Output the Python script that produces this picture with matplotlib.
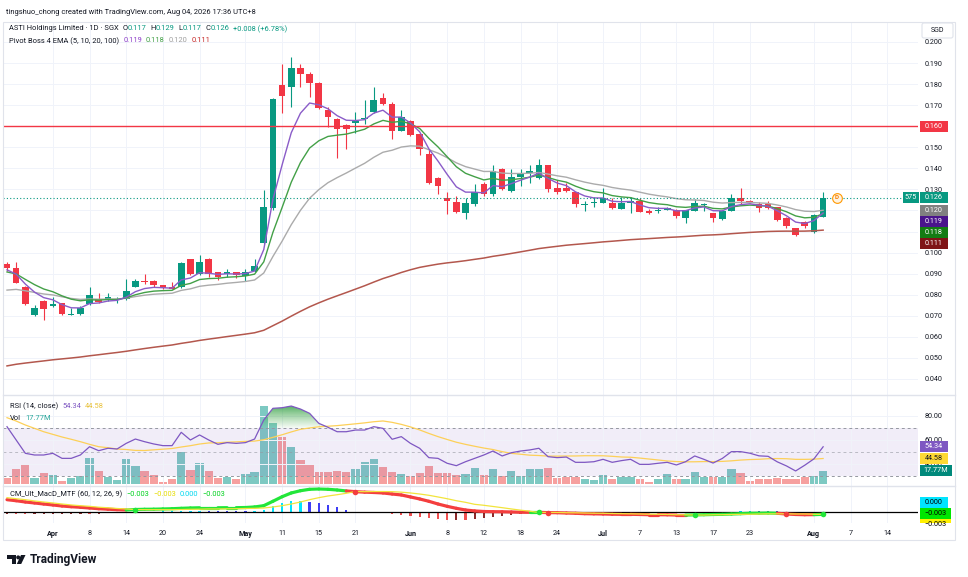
import numpy as np
import pandas as pd
import matplotlib
matplotlib.use("Agg")
from matplotlib import pyplot as plt
from matplotlib.patches import Rectangle, FancyBboxPatch, PathPatch, Polygon, Circle
from matplotlib.collections import LineCollection
from matplotlib.colors import LinearSegmentedColormap
from matplotlib.path import Path
from matplotlib.ticker import FuncFormatter

W, H = 968, 577
plt.rcParams['font.family'] = ['Roboto', 'DejaVu Sans']

# ---------------- data ----------------
first_day = "2026-03-25"
holidays = ["2026-04-03", "2026-05-01", "2026-05-07", "2026-05-27", "2026-06-01", "2026-08-10"]

opens = [0.0948, 0.0926, 0.0835, 0.0705, 0.0770, 0.0747, 0.0759, 0.0705, 0.0707, 0.0756,
         0.0780, 0.0780, 0.0775, 0.0778, 0.0838, 0.0867, 0.0867, 0.0846, 0.0838, 0.0835,
         0.0968, 0.0897, 0.0968, 0.0907, 0.0897, 0.0906, 0.0889, 0.0914, 0.1047, 0.1213,
         0.1795, 0.1785, 0.1875, 0.1847, 0.1807, 0.1677, 0.1634, 0.1606, 0.1616, 0.1634,
         0.1666, 0.1735, 0.1705, 0.1577, 0.1627, 0.1563, 0.1467, 0.1356, 0.1258, 0.1242,
         0.1187, 0.1229, 0.1326, 0.1277, 0.1397, 0.1294, 0.1357, 0.1376, 0.1356, 0.1415,
         0.1305, 0.1308, 0.1286, 0.1227, 0.1234, 0.1237, 0.1237, 0.1206, 0.1237, 0.1247,
         0.1199, 0.1197, 0.1203, 0.1202, 0.1166, 0.1199, 0.1224, 0.1186, 0.1158, 0.1199,
         0.1258, 0.1247, 0.1229, 0.1229, 0.1215, 0.1166, 0.1115, 0.1144, 0.1096, 0.1170]
highs = [0.0957, 0.0957, 0.0841, 0.0751, 0.0775, 0.0791, 0.0763, 0.0737, 0.0746, 0.0835,
         0.0809, 0.0809, 0.0790, 0.0875, 0.0873, 0.0898, 0.0870, 0.0848, 0.0860, 0.0955,
         0.0970, 0.0989, 0.0972, 0.0910, 0.0924, 0.0910, 0.0924, 0.0968, 0.1297, 0.1733,
         0.1896, 0.1927, 0.1896, 0.1856, 0.1810, 0.1692, 0.1640, 0.1611, 0.1666, 0.1724,
         0.1788, 0.1759, 0.1716, 0.1677, 0.1630, 0.1565, 0.1494, 0.1360, 0.1289, 0.1269,
         0.1258, 0.1326, 0.1337, 0.1416, 0.1400, 0.1396, 0.1396, 0.1416, 0.1445, 0.1418,
         0.1344, 0.1330, 0.1290, 0.1246, 0.1262, 0.1306, 0.1258, 0.1265, 0.1265, 0.1258,
         0.1205, 0.1218, 0.1215, 0.1205, 0.1204, 0.1255, 0.1234, 0.1190, 0.1199, 0.1278,
         0.1308, 0.1250, 0.1242, 0.1245, 0.1218, 0.1170, 0.1118, 0.1150, 0.1181, 0.1290]
lows = [0.0915, 0.0855, 0.0750, 0.0700, 0.0680, 0.0740, 0.0705, 0.0702, 0.0703, 0.0752,
        0.0762, 0.0772, 0.0762, 0.0775, 0.0835, 0.0851, 0.0835, 0.0827, 0.0825, 0.0833,
        0.0895, 0.0893, 0.0885, 0.0870, 0.0885, 0.0881, 0.0867, 0.0910, 0.1040, 0.1202,
        0.1661, 0.1689, 0.1788, 0.1737, 0.1682, 0.1595, 0.1448, 0.1490, 0.1569, 0.1611,
        0.1661, 0.1700, 0.1538, 0.1577, 0.1555, 0.1463, 0.1326, 0.1278, 0.1183, 0.1189,
        0.1160, 0.1223, 0.1270, 0.1270, 0.1297, 0.1290, 0.1318, 0.1329, 0.1350, 0.1290,
        0.1280, 0.1290, 0.1218, 0.1199, 0.1218, 0.1237, 0.1207, 0.1206, 0.1190, 0.1192,
        0.1183, 0.1190, 0.1200, 0.1163, 0.1139, 0.1197, 0.1197, 0.1147, 0.1156, 0.1197,
        0.1229, 0.1235, 0.1191, 0.1208, 0.1152, 0.1115, 0.1079, 0.1118, 0.1092, 0.1170]
closes = [0.0925, 0.0857, 0.0756, 0.0736, 0.0734, 0.0755, 0.0707, 0.0708, 0.0736, 0.0799,
          0.0767, 0.0788, 0.0780, 0.0818, 0.0867, 0.0859, 0.0846, 0.0830, 0.0827, 0.0949,
          0.0897, 0.0955, 0.0897, 0.0885, 0.0906, 0.0895, 0.0906, 0.0936, 0.1218, 0.1728,
          0.1745, 0.1875, 0.1847, 0.1807, 0.1685, 0.1645, 0.1585, 0.1585, 0.1624, 0.1640,
          0.1724, 0.1704, 0.1577, 0.1645, 0.1559, 0.1490, 0.1332, 0.1318, 0.1245, 0.1194,
          0.1237, 0.1286, 0.1277, 0.1388, 0.1302, 0.1357, 0.1376, 0.1388, 0.1415, 0.1302,
          0.1286, 0.1294, 0.1229, 0.1230, 0.1241, 0.1258, 0.1213, 0.1237, 0.1245, 0.1194,
          0.1187, 0.1203, 0.1210, 0.1174, 0.1202, 0.1237, 0.1227, 0.1163, 0.1197, 0.1258,
          0.1247, 0.1240, 0.1212, 0.1210, 0.1155, 0.1128, 0.1085, 0.1124, 0.1180, 0.1260]
# volume in millions of shares
volume = [8.9, 20.4, 27.1, 8.9, 14.7, 12.4, 4.4, 8.9, 11.6, 35.6,
          17.8, 9.8, 5.8, 33.8, 24.9, 17.8, 12.4, 3.1, 6.7, 42.7,
          19.1, 28.4, 17.8, 8.9, 9.8, 6.7, 13.8, 16.9, 104.4, 82.2,
          63.6, 49.3, 32.4, 25.8, 16.0, 16.0, 17.8, 16.0, 20.4, 29.3,
          33.8, 23.1, 16.0, 13.3, 11.6, 15.6, 24.9, 15.6, 15.6, 12.4,
          13.3, 22.2, 12.4, 20.4, 11.6, 18.2, 11.6, 20.4, 20.4, 22.2,
          8.0, 9.3, 9.3, 6.7, 5.8, 12.4, 7.6, 9.8, 9.8, 6.7,
          3.1, 6.7, 13.8, 6.7, 6.7, 16.0, 10.2, 10.2, 9.3, 20.4,
          15.6, 4.4, 7.1, 7.1, 8.9, 7.1, 7.1, 9.3, 11.1, 17.77]
rsi = [71.1, 60.0, 48.9, 47.5, 47.5, 48.9, 44.7, 44.7, 47.5, 54.4,
       51.1, 53.1, 52.5, 57.2, 60.8, 58.6, 56.7, 55.3, 55.3, 66.4,
       60.0, 64.2, 60.0, 56.4, 57.8, 57.2, 57.8, 60.8, 76.7, 86.4,
       86.9, 88.3, 85.8, 82.2, 73.9, 70.6, 66.9, 66.9, 68.3, 68.3,
       71.1, 69.7, 60.6, 62.8, 57.2, 53.1, 45.3, 44.7, 40.6, 38.6,
       41.9, 44.7, 47.5, 50.8, 46.7, 49.4, 50.8, 51.7, 53.1, 46.1,
       45.3, 45.8, 41.4, 41.4, 41.9, 43.9, 41.4, 42.8, 43.9, 39.7,
       39.7, 40.6, 41.4, 39.2, 41.9, 46.7, 43.9, 40.8, 44.6, 50.3,
       50.3, 49.0, 46.8, 46.4, 41.8, 38.4, 34.2, 39.0, 44.3, 54.34]
# RSI-based MA for the first bars (earlier RSI history is off-screen)
rsi_ma_head = [78.6, 75.8, 72.5, 69.7, 66.9, 64.7, 62.5, 60.6, 58.6, 56.4, 54.4, 53.6, 52.5]
# MACD and signal, in thousandths
macd = [15.4, 14.1, 12.5, 11.3, 10.0, 8.8, 7.5, 6.6, 5.9, 5.0,
        4.1, 3.5, 2.9, 2.5, 3.1, 3.4, 3.5, 3.8, 4.1, 4.6,
        5.0, 5.3, 5.3, 5.3, 5.4, 5.4, 5.6, 6.3, 7.9, 13.4,
        19.1, 23.8, 26.6, 28.4, 28.8, 28.4, 27.5, 26.3, 25.4, 24.8,
        24.4, 23.8, 22.5, 21.3, 18.8, 16.3, 13.4, 10.0, 7.1, 4.6,
        2.5, 1.3, 0.6, 0.4, 0.3, 0.0, -0.3, -0.4, -0.4, -0.8,
        -0.9, -1.3, -1.6, -2.1, -2.3, -2.5, -2.8, -2.9, -2.9, -3.1,
        -3.4, -3.4, -3.5, -3.8, -3.8, -3.6, -3.4, -3.1, -2.9, -2.5,
        -2.1, -1.6, -1.5, -1.3, -1.6, -2.5, -3.1, -3.4, -3.3, -2.9]
signal = [17.9, 16.6, 15.4, 13.8, 12.5, 11.3, 10.0, 8.8, 7.9, 7.1,
          6.0, 5.3, 4.4, 3.8, 3.0, 2.9, 2.9, 2.9, 2.9, 3.1,
          3.4, 3.5, 3.8, 3.8, 4.0, 4.1, 4.4, 4.6, 5.0, 6.3,
          7.9, 10.0, 12.5, 15.4, 17.9, 20.0, 21.6, 23.4, 25.6, 25.4,
          25.6, 25.6, 25.4, 24.8, 23.8, 22.5, 20.9, 18.8, 16.6, 14.1,
          12.1, 9.6, 8.4, 6.9, 5.4, 3.8, 2.3, 1.0, -0.6, -0.6,
          -0.6, -0.9, -1.0, -1.3, -1.5, -1.6, -1.9, -2.1, -2.3, -2.5,
          -2.8, -2.9, -3.1, -3.4, -3.5, -3.8, -3.8, -3.5, -3.4, -3.1,
          -2.9, -2.8, -2.5, -2.3, -2.3, -2.3, -2.5, -2.5, -2.8, -3.0]
# EMA values on the first visible bar
ema_seed = {5: 0.0918, 10: 0.0908, 20: 0.0822, 100: 0.0462}
alert_level = 0.160
dividend_day = "2026-08-05"
tick_dates = ["2026-04-01", "2026-04-08", "2026-04-14", "2026-04-20", "2026-04-24",
              "2026-05-04", "2026-05-11", "2026-05-15", "2026-05-21",
              "2026-06-02", "2026-06-08", "2026-06-12", "2026-06-18", "2026-06-24",
              "2026-07-01", "2026-07-07", "2026-07-13", "2026-07-17", "2026-07-23",
              "2026-08-03", "2026-08-07", "2026-08-14"]

# ---------------- derived series ----------------
days = pd.bdate_range(first_day, "2026-08-21", freq="C", holidays=holidays)
pos = {d.strftime("%Y-%m-%d"): i for i, d in enumerate(days)}
n = len(closes)
x = np.arange(n)
o, h, l, c = map(np.array, (opens, highs, lows, closes))


def ema(vals, span, seed):
    a = 2.0 / (span + 1)
    out = [seed]
    for v in vals[1:]:
        out.append(out[-1] + a * (v - out[-1]))
    return np.array(out)


emas = {p: ema(c, p, ema_seed[p]) for p in (5, 10, 20, 100)}
rsi_v = np.array(rsi)
rsi_ma = pd.Series(rsi).rolling(14).mean().to_numpy()
rsi_ma[:13] = rsi_ma_head
macd_v = np.array(macd) / 1000
sig_v = np.array(signal) / 1000
hist = macd_v - sig_v

UP, DOWN = '#089981', '#F23645'
GRID = '#F0F3FA'
TXT = '#131722'
C5, C10, C20, C100 = '#8A5CC8', '#43A047', '#ABABAB', '#B3574D'
LIME, RED = '#22E63A', '#F43E3E'
FS = 5.4

# ---------------- layout (pixel based) ----------------
fig = plt.figure(figsize=(W / 100, H / 100), dpi=100)
fig.patch.set_facecolor('white')


def rect(top, bottom, left=3, right=918):
    return [left / W, 1 - bottom / H, (right - left) / W, (bottom - top) / H]


ax = fig.add_axes(rect(22, 395))
ax2 = fig.add_axes(rect(395, 486), sharex=ax)
ax3 = fig.add_axes(rect(486, 523), sharex=ax)
ax2v = ax2.twinx()
ax2.set_zorder(2)
ax2v.set_zorder(1)
ax2.patch.set_visible(False)

for a in (ax, ax2, ax3, ax2v):
    for s in a.spines.values():
        s.set_visible(False)
    a.tick_params(length=0, labelsize=5.2, labelcolor=TXT)

# ---- main price panel ----
up = c >= o
cols = np.where(up, UP, DOWN)
ax.vlines(x, l, h, colors=cols, lw=0.8, zorder=2)
ax.bar(x, np.maximum(np.abs(c - o), 0.0005), bottom=np.minimum(o, c),
       width=0.72, color=cols, lw=0, zorder=2.1)
ax.plot(x, emas[100], color=C100, lw=1.1, zorder=3)
ax.plot(x, emas[20], color=C20, lw=1.0, zorder=3)
ax.plot(x, emas[10], color=C10, lw=1.0, zorder=3)
ax.plot(x, emas[5], color=C5, lw=1.0, zorder=3)
ax.axhline(alert_level, color='#F23645', lw=1.0, zorder=3)
ax.axhline(c[-1], color=UP, lw=0.8, ls=(0, (1, 2)), zorder=3)
xd = pos[dividend_day] + 0.5
ax.plot([xd], [c[-1]], 'o', ms=7, mfc='#FFF3E0', mec='#FF9800', mew=0.8, zorder=6)
ax.text(xd, c[-1], 'D', color='#F57C00', fontsize=4.5, ha='center', va='center',
        fontweight='bold', zorder=7)

ax.yaxis.tick_right()
ax.set_yticks(np.round(np.arange(0.04, 0.2001, 0.01), 3))
ax.yaxis.set_major_formatter(FuncFormatter(lambda v, p: f"{v:.3f}"))
ax.tick_params(axis='y', pad=5)
ax.grid(True, color=GRID, lw=0.7)
ax.set_axisbelow(True)
ax.set_ylim(0.2 - (395 - 42) / 2106, 0.2 + 20 / 2106)

# ---- RSI + volume panel ----
vcols = [(38 / 255, 166 / 255, 154 / 255, 0.6) if u else (239 / 255, 83 / 255, 80 / 255, 0.55)
         for u in up]
ax2v.bar(x, volume, width=0.9, color=vcols, lw=0)
ax2v.set_ylim(-2.27, 119.1)
ax2v.set_yticks([])

ax2.axhspan(30, 70, color='#7E57C2', alpha=0.1, lw=0)
for lv, al in ((70, 1.0), (50, 0.6), (30, 1.0)):
    ax2.axhline(lv, color='#9598A1', lw=0.7, ls=(0, (3, 3)), alpha=al)
fb = ax2.fill_between(x, rsi_v, 70, where=rsi_v > 70, interpolate=True,
                      facecolor='none', edgecolor='none')
clip = PathPatch(Path.make_compound_path(*fb.get_paths()), transform=ax2.transData,
                 facecolor='none', edgecolor='none')
ax2.add_patch(clip)
ob_cmap = LinearSegmentedColormap.from_list(
    'ob', [(0.30, 0.69, 0.31, 0.05), (0.16, 0.60, 0.24, 0.85)])
im = ax2.imshow(np.linspace(0, 1, 256).reshape(-1, 1), extent=[0, n - 1, 70, 90],
                origin='lower', aspect='auto', cmap=ob_cmap, zorder=2.5)
im.set_clip_path(clip)
ax2.plot(x, rsi_ma, color='#FDD058', lw=0.9, zorder=3)
ax2.plot(x, rsi_v, color='#7E57C2', lw=0.9, zorder=3.1)
ax2.yaxis.tick_right()
ax2.set_yticks([40, 60, 80])
ax2.yaxis.set_major_formatter(FuncFormatter(lambda v, p: f"{v:.2f}"))
ax2.tick_params(axis='y', pad=5)
ax2.grid(True, color=GRID, lw=0.7)
ax2.set_ylim(50 - (486 - 452) / 1.2, 50 + (452 - 395) / 1.2)

# ---- MACD panel ----
hcol = []
for i in range(n):
    prev = hist[i - 1] if i > 0 else hist[i]
    if hist[i] >= 0:
        hcol.append('#00E5FF' if hist[i] > prev else '#3D3DF5')
    else:
        hcol.append('#F05050' if hist[i] < prev else '#8B2A2A')
ax3.bar(x, hist, width=0.25, color=hcol, lw=0, zorder=2)
ax3.axhline(0, color='black', lw=0.9, zorder=2.5)
state = macd_v >= sig_v
pts = np.column_stack([x, macd_v])
segs = np.stack([pts[:-1], pts[1:]], axis=1)
lc = LineCollection(segs, colors=[LIME if s else RED for s in state[1:]],
                    linewidths=2.3, capstyle='round', zorder=3)
ax3.add_collection(lc)
ax3.plot(x, sig_v, color='#F2E43C', lw=0.9, zorder=3.5)
for i in np.where(state[1:] != state[:-1])[0] + 1:
    ax3.plot(i, macd_v[i], 'o', ms=4, mec='none', color=LIME if state[i] else RED, zorder=5)
ax3.set_yticks([])
ax3.grid(True, axis='x', color=GRID, lw=0.7)
ax3.set_axisbelow(True)
ax3.set_ylim((512 - 523) * 1.25e-3, (512 - 486) * 1.25e-3)


# ---- time axis ----
def tick_label(d):
    ts = pd.Timestamp(d)
    first = days[days.month == ts.month][0]
    return ts.strftime('%b') if ts == first else str(ts.day)


ax3.set_xticks([pos[d] for d in tick_dates])
ax3.set_xticklabels([tick_label(d) for d in tick_dates])
for t in ax3.get_xticklabels():
    if not t.get_text().isdigit():
        t.set_fontweight('bold')
ax3.tick_params(axis='x', pad=5)
ax.tick_params(labelbottom=False)
ax2.tick_params(labelbottom=False)
ax.set_xlim((3 - 7) / 9.17, (918 - 7) / 9.17)

# ---------------- overlay: frame, legends, price tags ----------------
ov = fig.add_axes([0, 0, 1, 1])
ov.set_xlim(0, W)
ov.set_ylim(H, 0)
ov.axis('off')
ov.patch.set_visible(False)
ov.set_zorder(10)

ov.add_patch(Rectangle((3, 22), 952, 518, fill=False, edgecolor='#E0E3EB', lw=0.8))
for yy in (395, 486):
    ov.plot([3, 955], [yy, yy], color='#E0E3EB', lw=1.0)

renderer = fig.canvas.get_renderer()


def rich(x0, y0, parts, size=FS):
    xx = x0
    for gap, s, col in parts:
        xx += gap
        t = ov.text(xx, y0, s, color=col, fontsize=size, ha='left', va='center')
        xx += t.get_window_extent(renderer=renderer).width


def fmt(v, d=3):
    return f"{v:.{d}f}".replace('-', '\u2212')


chg = c[-1] - c[-2]
rich(6, 13, [(0, "tingshuo_chong created with TradingView.com, Aug 04, 2026 17:36 UTC+8", TXT)])
rich(9, 29, [(0, "ASTI Holdings Limited \u00b7 1D \u00b7 SGX", TXT),
             (4, "O", TXT), (0, fmt(o[-1]), UP), (4, "H", TXT), (0, fmt(h[-1]), UP),
             (4, "L", TXT), (0, fmt(l[-1]), UP), (4, "C", TXT), (0, fmt(c[-1]), UP),
             (4, f"+{chg:.3f} (+{chg / c[-2] * 100:.2f}%)", UP)])
rich(9, 41, [(0, "Pivot Boss 4 EMA (5, 10, 20, 100)", TXT),
             (4, fmt(emas[5][-1]), '#8E3FC9'), (4, fmt(emas[10][-1]), C10),
             (4, fmt(emas[20][-1]), '#9E9E9E'), (4, fmt(emas[100][-1]), '#C62828')])
rich(10, 406, [(0, "RSI (14, close)", TXT), (4, fmt(rsi_v[-1], 2), '#7E57C2'),
               (4, fmt(rsi_ma[-1], 2), '#E8C13A')])
rich(10, 418, [(0, "Vol", TXT), (4, f"{volume[-1]:.2f}M", '#26A69A')])
rich(10, 494, [(0, "CM_Ult_MacD_MTF (60, 12, 26, 9)", TXT), (4, fmt(macd_v[-1]), '#00D21E'),
               (4, fmt(sig_v[-1]), '#E6DC00'), (4, fmt(hist[-1]), '#00D8F0'),
               (4, fmt(macd_v[-1]), '#00D21E')])


def ypx(a, v):
    return H - a.transData.transform((0, v))[1]


def tag(y, text, bg, fg='white', width=28, x0=920, clip_patch=None):
    r = Rectangle((x0, y - 5.5), width, 11, facecolor=bg, edgecolor='none', zorder=5)
    ov.add_patch(r)
    t = ov.text(x0 + width / 2, y, text, color=fg, fontsize=5.2, ha='center', va='center', zorder=6)
    if clip_patch is not None:
        r.set_clip_path(clip_patch)
        t.set_clip_path(clip_patch)


# main panel tags
tag(ypx(ax, alert_level), fmt(alert_level), '#F23645')
stack = sorted([(c[-1], UP), (emas[20][-1], '#808080'), (emas[5][-1], '#4A148C'),
                (emas[10][-1], '#137C13'), (emas[100][-1], '#7F1416')], key=lambda t: -t[0])
prev = -1e9
for v, col in stack:
    y = max(ypx(ax, v), prev + 11)
    prev = y
    tag(y, fmt(v), col)
    if v == c[-1]:
        tag(y, "575", UP, width=16, x0=903)

ov.add_patch(FancyBboxPatch((922, 23), 31, 15, boxstyle="round,pad=0,rounding_size=2",
                            facecolor='white', edgecolor='#E0E3EB', lw=0.8, zorder=5))
ov.text(937.5, 30.5, "SGD", fontsize=5, color=TXT, ha='center', va='center', zorder=6)

# RSI / volume tags
tag(ypx(ax2, rsi_v[-1]), fmt(rsi_v[-1], 2), '#7E57C2')
tag(ypx(ax2, rsi_ma[-1]), fmt(rsi_ma[-1], 2), '#FDD835', fg=TXT)
tag(ypx(ax2v, volume[-1]), f"{volume[-1]:.2f}M", '#00897B', width=32)

# MACD tags, spread around their values and clipped to the pane
mclip = Rectangle((898, 486), 60, 37, transform=ov.transData)
mvals = [(hist[-1], '#00E5FF', 28), (macd_v[-1], '#00E600', 31), (sig_v[-1], '#FFF000', 31)]
centre = np.mean([ypx(ax3, v) for v, _, _ in mvals])
for k, (v, col, wd) in enumerate(mvals):
    tag(centre + (k - 1) * 11, fmt(v), col, fg='black', width=wd, clip_patch=mclip)

# TradingView logo
logo = '#131722'
ov.add_patch(Rectangle((7, 555), 8.5, 3.5, color=logo, lw=0))
ov.add_patch(Rectangle((11.5, 555), 4, 9, color=logo, lw=0))
ov.add_patch(Circle((18.2, 557.4), 2.0, color=logo, lw=0))
ov.add_patch(Polygon([(21, 555), (25.5, 555), (21.2, 564), (16.8, 564)], color=logo, lw=0))
ov.text(30, 560, "TradingView", fontsize=8.6, fontweight='bold', color=logo, ha='left', va='center')

fig.savefig('out.png', dpi=100)
